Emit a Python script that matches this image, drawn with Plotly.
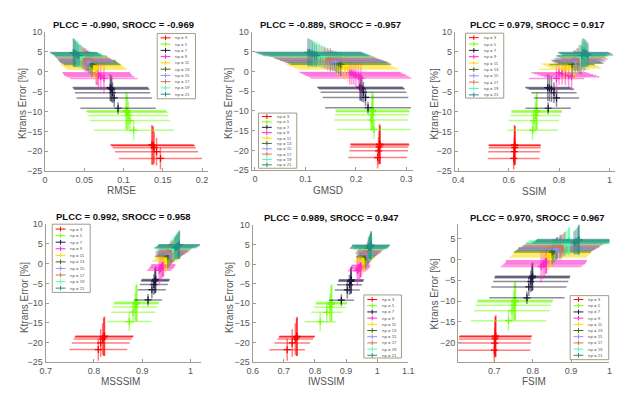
import plotly.graph_objects as go

W, H = 627, 394

NP_LABELS = ["np = 3", "np = 5", "np = 7", "np = 9", "np = 11",
             "np = 13", "np = 15", "np = 17", "np = 19", "np = 21"]
COLORS = [(255, 0, 0), (110, 255, 0), (30, 25, 60), (255, 40, 200), (255, 215, 0),
          (55, 110, 20), (150, 140, 255), (200, 120, 80), (80, 255, 170), (40, 140, 130)]

# Ktrans error (%) per series, same for every metric
KTRANS_Y = [
    [-18.4, -18.5, -18.6, -19.1, -20.1, -21.8],
    [-9.8, -10.0, -10.2, -11.0, -12.3, -14.7],
    [-4.0, -4.2, -4.4, -5.3, -6.6, -9.2],
    [-0.3, -0.5, -0.8, -1.0, -1.3, -1.7],
    [1.9, 1.7, 1.5, 1.2, 0.9, 0.6],
    [2.8, 2.7, 2.5, 2.3, 2.1, 1.8],
    [3.3, 3.2, 3.0, 2.8, 2.6, 2.4],
    [3.9, 3.8, 3.6, 3.4, 3.1, 2.9],
    [4.5, 4.4, 4.3, 4.1, 3.9, 3.7],
    [4.8, 4.7, 4.6, 4.4, 4.2, 4.0],
]
KTRANS_YERR = [
    [5.0, 4.9, 4.8, 4.0, 3.5, 2.8],
    [4.7, 4.6, 4.5, 3.5, 2.8, 2.4],
    [3.4, 3.3, 3.2, 2.6, 2.2, 1.5],
    [3.0, 2.8, 2.6, 3.0, 3.4, 3.8],
    [2.8, 2.6, 2.5, 2.8, 3.0, 3.2],
    [2.6, 2.5, 2.4, 2.6, 2.8, 3.0],
    [2.6, 2.5, 2.4, 2.5, 2.7, 2.9],
    [2.8, 2.7, 2.6, 2.7, 2.9, 3.0],
    [3.4, 3.3, 3.2, 3.0, 2.9, 2.8],
    [3.6, 3.5, 3.4, 3.2, 3.0, 2.8],
]

RMSE_X = [
    [0.136, 0.137, 0.138, 0.139, 0.142, 0.147],
    [0.103, 0.104, 0.105, 0.106, 0.108, 0.113],
    [0.083, 0.084, 0.085, 0.086, 0.088, 0.093],
    [0.065, 0.066, 0.067, 0.068, 0.071, 0.075],
    [0.058, 0.059, 0.060, 0.062, 0.064, 0.066],
    [0.053, 0.054, 0.055, 0.056, 0.058, 0.060],
    [0.049, 0.050, 0.051, 0.052, 0.054, 0.056],
    [0.045, 0.046, 0.047, 0.048, 0.050, 0.052],
    [0.040, 0.041, 0.042, 0.043, 0.045, 0.047],
    [0.036, 0.037, 0.038, 0.039, 0.041, 0.043],
]
RMSE_XERR = [0.053, 0.051, 0.048, 0.043, 0.038, 0.036, 0.034, 0.033, 0.031, 0.030]

GMSD_X = [
    [0.247, 0.247, 0.248, 0.246, 0.245, 0.243],
    [0.232, 0.233, 0.234, 0.232, 0.230, 0.236],
    [0.208, 0.210, 0.212, 0.215, 0.219, 0.224],
    [0.188, 0.192, 0.196, 0.200, 0.205, 0.210],
    [0.160, 0.164, 0.168, 0.173, 0.178, 0.184],
    [0.150, 0.154, 0.158, 0.162, 0.166, 0.170],
    [0.138, 0.142, 0.146, 0.150, 0.155, 0.160],
    [0.127, 0.131, 0.135, 0.139, 0.144, 0.149],
    [0.115, 0.119, 0.123, 0.127, 0.132, 0.137],
    [0.105, 0.108, 0.111, 0.114, 0.118, 0.122],
]
GMSD_XERR = [0.058, 0.073, 0.085, 0.100, 0.100, 0.100, 0.100, 0.100, 0.100, 0.105]

SSIM_X = [
    [0.623, 0.624, 0.625, 0.624, 0.622, 0.620],
    [0.712, 0.711, 0.710, 0.706, 0.700, 0.695],
    [0.755, 0.762, 0.770, 0.780, 0.790, 0.757],
    [0.800, 0.812, 0.825, 0.838, 0.850, 0.790],
    [0.830, 0.840, 0.850, 0.858, 0.866, 0.820],
    [0.860, 0.867, 0.874, 0.880, 0.887, 0.852],
    [0.870, 0.877, 0.884, 0.890, 0.896, 0.865],
    [0.880, 0.886, 0.892, 0.898, 0.903, 0.875],
    [0.888, 0.894, 0.900, 0.905, 0.910, 0.884],
    [0.895, 0.900, 0.905, 0.910, 0.915, 0.890],
]
SSIM_XERR = [0.103, 0.100, 0.090, 0.110, 0.100, 0.090, 0.090, 0.090, 0.090, 0.100]

MSSSIM_X = [
    [0.822, 0.821, 0.820, 0.818, 0.814, 0.809],
    [0.889, 0.888, 0.887, 0.885, 0.881, 0.873],
    [0.928, 0.927, 0.926, 0.924, 0.920, 0.912],
    [0.944, 0.943, 0.942, 0.940, 0.938, 0.935],
    [0.955, 0.954, 0.953, 0.951, 0.949, 0.946],
    [0.962, 0.961, 0.960, 0.958, 0.956, 0.953],
    [0.966, 0.965, 0.964, 0.962, 0.960, 0.957],
    [0.969, 0.968, 0.967, 0.965, 0.963, 0.960],
    [0.972, 0.971, 0.970, 0.968, 0.966, 0.963],
    [0.977, 0.976, 0.975, 0.973, 0.971, 0.968],
]
MSSSIM_XERR = [0.060, 0.046, 0.029, 0.025, 0.025, 0.027, 0.030, 0.033, 0.037, 0.043]

IWSSIM_X = [
    [0.743, 0.742, 0.741, 0.737, 0.727, 0.711],
    [0.854, 0.853, 0.852, 0.848, 0.838, 0.817],
    [0.917, 0.916, 0.915, 0.911, 0.904, 0.885],
    [0.948, 0.947, 0.946, 0.944, 0.940, 0.936],
    [0.964, 0.963, 0.962, 0.960, 0.957, 0.953],
    [0.973, 0.972, 0.971, 0.969, 0.966, 0.962],
    [0.977, 0.976, 0.975, 0.973, 0.970, 0.967],
    [0.980, 0.979, 0.978, 0.976, 0.973, 0.970],
    [0.982, 0.981, 0.980, 0.978, 0.976, 0.973],
    [0.981, 0.980, 0.979, 0.977, 0.975, 0.972],
]
IWSSIM_XERR = [0.057, 0.050, 0.040, 0.030, 0.028, 0.030, 0.035, 0.040, 0.050, 0.060]

FSIM_X = [
    [0.704, 0.703, 0.702, 0.702, 0.701, 0.700],
    [0.755, 0.754, 0.753, 0.750, 0.746, 0.737],
    [0.800, 0.799, 0.798, 0.795, 0.790, 0.785],
    [0.836, 0.835, 0.834, 0.831, 0.827, 0.822],
    [0.853, 0.852, 0.851, 0.848, 0.844, 0.840],
    [0.864, 0.863, 0.862, 0.859, 0.855, 0.851],
    [0.874, 0.873, 0.872, 0.869, 0.865, 0.861],
    [0.884, 0.883, 0.882, 0.879, 0.875, 0.871],
    [0.896, 0.895, 0.894, 0.891, 0.887, 0.883],
    [0.921, 0.920, 0.919, 0.916, 0.912, 0.908],
]
FSIM_XERR = [0.094, 0.098, 0.098, 0.105, 0.100, 0.100, 0.100, 0.100, 0.105, 0.110]

METRIC_NAMES = ["RMSE", "GMSD", "SSIM", "MSSSIM", "IWSSIM", "FSIM"]
TITLES = ["PLCC = -0.990, SROCC = -0.969", "PLCC = -0.889, SROCC = -0.957",
          "PLCC = 0.979, SROCC = 0.917", "PLCC = 0.992, SROCC = 0.958",
          "PLCC = 0.989, SROCC = 0.947", "PLCC = 0.970, SROCC = 0.967"]
X_DATA = [RMSE_X, GMSD_X, SSIM_X, MSSSIM_X, IWSSIM_X, FSIM_X]
XERR_DATA = [RMSE_XERR, GMSD_XERR, SSIM_XERR, MSSSIM_XERR, IWSSIM_XERR, FSIM_XERR]
X_TICK0 = [0, 0, 0.4, 0.7, 0.6, 0.7]
X_DTICK = [0.05, 0.1, 0.2, 0.1, 0.1, 0.1]
X_RANGES = [[0, 0.2075], [-0.0066, 0.313], [0.3856, 1.0234],
            [0.7, 1.0224], [0.6, 1.1], [0.6054, 1.0]]
Y_RANGES = [[-25, 10], [-25, 10], [-25, 10], [-25, 10], [-25, 10], [-24.7, 8.5]]

# ---- layout geometry (pixels) ----
PLOT_BOX = [  # x0, x1, ytop, ybottom
    (31.7, 197.7, 19.3, 162.3),
    (242.3, 406.7, 19.3, 161.3),
    (449.3, 613.0, 19.3, 162.3),
    (32.3, 191.0, 216.7, 358.3),
    (243.3, 402.0, 217.3, 358.3),
    (452.7, 607.0, 216.7, 358.3),
]
TITLE_POS = [(112, 12), (322.5, 12), (533.7, 12), (111.7, 209), (323.3, 210), (533.7, 210)]
XTITLE_POS = [(110, 182), (320, 182), (530.3, 183), (108.3, 378.5), (318.3, 378.5), (530, 378.5)]
YTITLE_POS = [(8.5, 93), (218.5, 93), (429, 93), (10, 291.7), (220, 291.7), (429, 288)]
LEGEND_BOX = [  # x0, x1, ytop, ybottom, first item y, last item y
    (146, 185, 21, 88, 25.5, 83.3),
    (249.3, 288.3, 102.7, 159.3, 106.3, 155.8),
    (460.3, 499.3, 20.7, 87.3, 25.3, 84),
    (39, 77.7, 216.7, 286.7, 221.7, 282.3),
    (356.7, 395, 289.3, 354, 294, 351.2),
    (567, 606.3, 290, 355.7, 294, 351.2),
]

FONT = "Liberation Sans, Arial, sans-serif"
AXIS_COLOR = "#a49c88"


def px(x):
    return x / W


def py(y):
    return 1 - y / H


fig = go.Figure()
layout = {}
annotations = []
shapes = []

for k in range(6):
    ax = "" if k == 0 else str(k + 1)
    x0, x1, yt, yb = PLOT_BOX[k]
    layout["xaxis" + ax] = dict(
        domain=[px(x0), px(x1)], range=X_RANGES[k], anchor="y" + ax,
        tickmode="linear", tick0=X_TICK0[k], dtick=X_DTICK[k],
        showgrid=False, zeroline=False, showline=True, linecolor=AXIS_COLOR, linewidth=1,
        ticks="inside", ticklen=3, tickcolor=AXIS_COLOR,
        tickfont=dict(family=FONT, size=9, color="#555555"),
    )
    layout["yaxis" + ax] = dict(
        domain=[py(yb), py(yt)], range=Y_RANGES[k], anchor="x" + ax,
        tickmode="linear", tick0=0, dtick=5,
        showgrid=False, zeroline=False, showline=True, linecolor=AXIS_COLOR, linewidth=1,
        ticks="inside", ticklen=3, tickcolor=AXIS_COLOR,
        tickfont=dict(family=FONT, size=9, color="#555555"),
    )
    for i in range(10):
        r, g, b = COLORS[i]
        fig.add_trace(go.Scatter(
            x=X_DATA[k][i], y=KTRANS_Y[i],
            xaxis="x" + ax, yaxis="y" + ax,
            mode="markers", name=NP_LABELS[i], showlegend=False,
            cliponaxis=False,
            marker=dict(symbol="cross-thin", size=5,
                        line=dict(width=1.2, color=f"rgb({r},{g},{b})")),
            error_x=dict(type="constant", value=XERR_DATA[k][i],
                         color=f"rgba({r},{g},{b},0.5)", thickness=1.5, width=0),
            error_y=dict(type="data", array=KTRANS_YERR[i],
                         color=f"rgba({r},{g},{b},0.5)", thickness=1.5, width=0),
        ))

    tx, ty = TITLE_POS[k]
    annotations.append(dict(text="<b>" + TITLES[k] + "</b>", x=px(tx), y=py(ty),
                            xref="paper", yref="paper", showarrow=False,
                            xanchor="center", yanchor="middle",
                            font=dict(family=FONT, size=9.5, color="#111")))
    tx, ty = XTITLE_POS[k]
    annotations.append(dict(text=METRIC_NAMES[k], x=px(tx), y=py(ty),
                            xref="paper", yref="paper", showarrow=False,
                            xanchor="center", yanchor="middle",
                            font=dict(family=FONT, size=10, color="#555555")))
    tx, ty = YTITLE_POS[k]
    annotations.append(dict(text="Ktrans Error [%]", x=px(tx), y=py(ty), textangle=-90,
                            xref="paper", yref="paper", showarrow=False,
                            xanchor="center", yanchor="middle",
                            font=dict(family=FONT, size=10, color="#555555")))

    # legend box
    lx0, lx1, lyt, lyb, f0, f1 = LEGEND_BOX[k]
    shapes.append(dict(type="rect", xref="paper", yref="paper",
                       x0=px(lx0), x1=px(lx1), y0=py(lyb), y1=py(lyt),
                       line=dict(color=AXIS_COLOR, width=1), fillcolor="white", layer="above"))
    step = (f1 - f0) / (len(NP_LABELS) - 1)
    for i in range(len(NP_LABELS)):
        r, g, b = COLORS[i]
        yy = f0 + i * step
        c = f"rgb({r},{g},{b})"
        shapes.append(dict(type="line", xref="paper", yref="paper",
                           x0=px(lx0 + 3.5), x1=px(lx0 + 13.5), y0=py(yy), y1=py(yy),
                           line=dict(color=c, width=1), layer="above"))
        shapes.append(dict(type="line", xref="paper", yref="paper",
                           x0=px(lx0 + 8.5), x1=px(lx0 + 8.5), y0=py(yy - 2.4), y1=py(yy + 2.4),
                           line=dict(color=c, width=1), layer="above"))
        annotations.append(dict(text=NP_LABELS[i], x=px(lx0 + 16.5), y=py(yy),
                                xref="paper", yref="paper", showarrow=False,
                                xanchor="left", yanchor="middle",
                                font=dict(family=FONT, size=4.3, color="#555")))

fig.update_layout(
    width=W, height=H, margin=dict(l=0, r=0, t=0, b=0),
    paper_bgcolor="white", plot_bgcolor="white",
    showlegend=False, annotations=annotations, shapes=shapes,
    **layout,
)

fig.write_html("out.html")
